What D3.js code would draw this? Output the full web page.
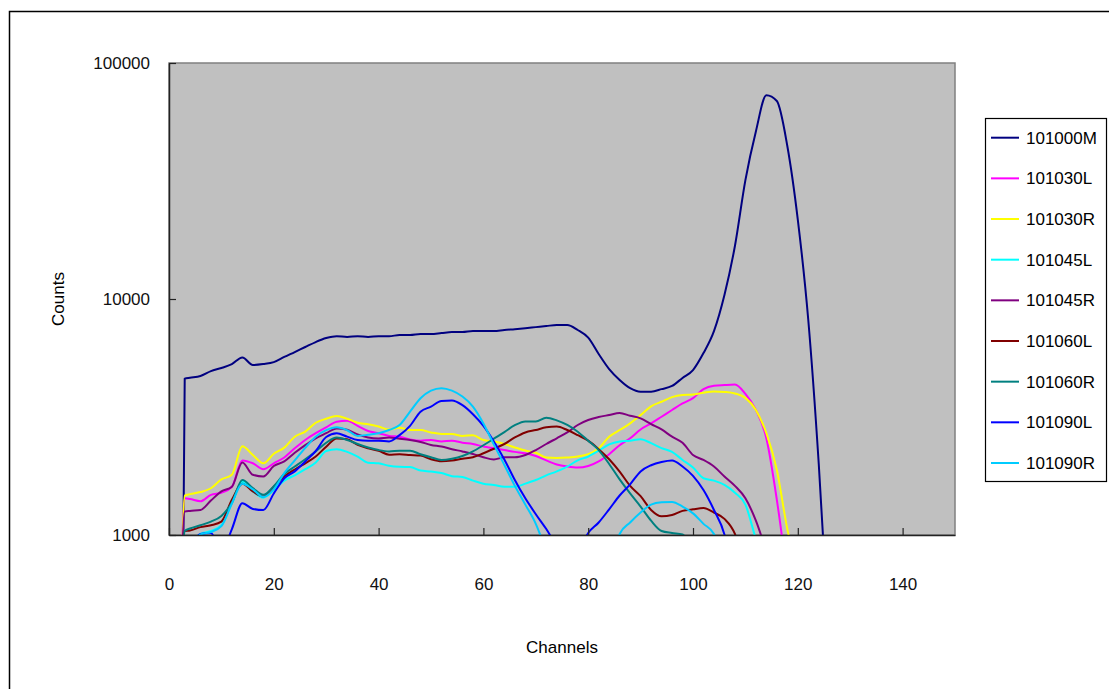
<!DOCTYPE html>
<html>
<head>
<meta charset="utf-8">
<script src="https://cdn.jsdelivr.net/npm/d3@7"></script>
<style>
  html, body { margin: 0; padding: 0; background: #ffffff; }
  svg { display: block; font-family: "Liberation Sans", Arial, sans-serif; }
</style>
</head>
<body>
<svg id="chart" width="1109" height="689"></svg>
<script>
// Channel positions shared by every spectrum
const channels = [
  2, 3, 4, 6, 8, 10, 12, 14,
  16, 18, 20, 22, 24, 26, 28, 30,
  32, 34, 36, 38, 40, 42, 44, 46,
  48, 50, 52, 54, 56, 58, 60, 62,
  64, 66, 68, 70, 72, 74, 76, 78,
  80, 82, 84, 86, 88, 90, 92, 94,
  96, 98, 100, 102, 104, 106, 108, 110,
  112, 114, 116, 118, 120, 122, 124, 126
];

// Counts per channel (null = no reading)
const s101000M = [
  10, 4600, 4640, 4720, 4950, 5100, 5300, 5650,
  5250, 5300, 5400, 5680, 5960, 6260, 6570, 6830,
  6960, 6900, 6960, 6900, 6960, 6960, 7030, 7030,
  7100, 7100, 7170, 7240, 7240, 7310, 7310, 7310,
  7390, 7450, 7520, 7600, 7680, 7760, 7760, 7390,
  6860, 5850, 5050, 4540, 4190, 4050, 4050, 4150,
  4280, 4630, 5000, 5900, 7310, 10400, 16770, 31900,
  51300, 73000, 69000, 44500, 21700, 8150, 2000, 350
];
const s101030L = [
  300, 1430, 1420, 1390, 1480, 1510, 1600, 2070,
  2013, 1900, 2013, 2130, 2330, 2527, 2700, 2860,
  3020, 3050, 2900, 2760, 2700, 2630, 2610, 2540,
  2510, 2527, 2490, 2510, 2460, 2430, 2370, 2330,
  2290, 2250, 2220, 2160, 2070, 1990, 1950, 1930,
  1960, 2050, 2200, 2400, 2570, 2800, 2970, 3170,
  3386, 3610, 3800, 4150, 4290, 4320, 4340, 3960,
  3390, 2570, 1410, 660, null, null, null, null
];
const s101030R = [
  300, 1470, 1490, 1520, 1578, 1720, 1800, 2380,
  2183, 2013, 2210, 2345, 2610, 2740, 2990, 3110,
  3190, 3110, 2990, 2944, 2880, 2800, 2850, 2785,
  2785, 2720, 2680, 2680, 2630, 2645, 2527, 2490,
  2430, 2350, 2280, 2230, 2130, 2120, 2130, 2150,
  2200, 2330, 2610, 2785, 2970, 3220, 3510, 3670,
  3840, 3920, 3940, 4010, 4060, 4040, 3980, 3810,
  3386, 2700, 1886, 1060, 700, null, null, null
];
const s101045L = [
  null, 500, 900, 1010, 1040, 1100, 1363, 1680,
  1530, 1440, 1550, 1700, 1790, 1900, 2030, 2270,
  2310, 2250, 2150, 2025, 2013, 1965, 1945, 1940,
  1875, 1857, 1830, 1775, 1760, 1700, 1650, 1630,
  1600, 1600, 1650, 1710, 1790, 1860, 1950, 2070,
  2150, 2275, 2420, 2490, 2510, 2545, 2450, 2335,
  2250, 2080, 1930, 1740, 1700, 1630, 1510, 1345,
  960, 700, null, null, null, null, null, null
];
const s101045R = [
  300, 1256, 1265, 1276, 1400, 1530, 1600, 2030,
  1800, 1770, 1960, 2050, 2230, 2405, 2570, 2700,
  2830, 2790, 2670, 2590, 2565, 2590, 2560, 2527,
  2480, 2407, 2370, 2310, 2260, 2205, 2135, 2090,
  2135, 2135, 2183, 2290, 2430, 2570, 2720, 2925,
  3070, 3160, 3225, 3290, 3200, 3120, 2950, 2800,
  2610, 2460, 2183, 2080, 1950, 1770, 1615, 1430,
  1150, 850, null, null, null, null, null, null
];
const s101060L = [
  300, 1040, 1045, 1080, 1100, 1140, 1410, 1650,
  1530, 1455, 1600, 1770, 1895, 2013, 2150, 2367,
  2565, 2545, 2410, 2330, 2275, 2190, 2200, 2183,
  2170, 2095, 2055, 2070, 2105, 2135, 2220, 2320,
  2430, 2590, 2720, 2785, 2860, 2880, 2785, 2650,
  2510, 2310, 2095, 1857, 1615, 1460, 1276, 1200,
  1215, 1265, 1285, 1300, 1245, 1170, 1010, 700,
  null, null, null, null, null, null, null, null
];
const s101060R = [
  300, 1040, 1065, 1100, 1140, 1205, 1370, 1710,
  1580, 1480, 1610, 1815, 1950, 2095, 2260, 2460,
  2590, 2527, 2430, 2350, 2290, 2260, 2275, 2275,
  2200, 2135, 2080, 2105, 2160, 2260, 2400, 2560,
  2730, 2920, 3030, 3030, 3140, 3060, 2925, 2740,
  2510, 2290, 2000, 1720, 1500, 1320, 1150, 1040,
  1020, 1005, 800, null, null, null, null, null,
  null, null, null, null, null, null, null, null
];
const s101090L = [
  null, 500, 800, 1010, 1020, 850, 1060, 1363,
  1290, 1276, 1500, 1740, 1860, 2050, 2270, 2600,
  2700, 2610, 2527, 2510, 2510, 2490, 2650, 2900,
  3330, 3500, 3700, 3715, 3550, 3250, 2900, 2490,
  2090, 1710, 1430, 1225, 1060, 900, 800, 850,
  1020, 1130, 1285, 1470, 1640, 1860, 1975, 2040,
  2070, 1950, 1780, 1550, 1276, 1005, 600, null,
  null, null, null, null, null, null, null, null
];
const s101090R = [
  null, null, 750, 1005, 1030, 1090, 1360, 1650,
  1560, 1450, 1560, 1830, 2070, 2340, 2610, 2780,
  2860, 2780, 2630, 2660, 2700, 2785, 2925, 3330,
  3795, 4090, 4190, 4090, 3860, 3500, 2970, 2415,
  1981, 1615, 1345, 1115, 850, null, null, null,
  null, null, 700, 1010, 1130, 1245, 1345, 1375,
  1380, 1320, 1235, 1115, 1010, 750, null, null,
  null, null, null, null, null, null, null, null
];

const seriesNames = ["101000M", "101030L", "101030R", "101045L", "101045R",
                     "101060L", "101060R", "101090L", "101090R"];
const seriesValues = [s101000M, s101030L, s101030R, s101045L, s101045R,
                      s101060L, s101060R, s101090L, s101090R];
const seriesColors = ["#000080", "#FF00FF", "#FFFF00", "#00FFFF", "#800080",
                      "#800000", "#008080", "#0000FF", "#00CCFF"];

const xTickValues = [0, 20, 40, 60, 80, 100, 120, 140];
const yTickValues = [1000, 10000, 100000];

// ---- layout ----
const plot = { left: 169, top: 63, right: 955, bottom: 535 };
const svg = d3.select("#chart");

const x = d3.scaleLinear().domain([0, 150]).range([plot.left, plot.right]);
const y = d3.scaleLog().domain([1000, 100000]).range([plot.bottom, plot.top]);

// outer chart frame (top and left edges)
svg.append("path")
  .attr("d", "M9.5,689 V11.5 H1109")
  .attr("fill", "none")
  .attr("stroke", "#000")
  .attr("stroke-width", 1.5);

// plot area
svg.append("rect")
  .attr("x", plot.left).attr("y", plot.top)
  .attr("width", plot.right - plot.left).attr("height", plot.bottom - plot.top)
  .attr("fill", "#C0C0C0")
  .attr("stroke", "#808080")
  .attr("stroke-width", 1.5);

svg.append("defs").append("clipPath").attr("id", "plotClip")
  .append("rect")
  .attr("x", plot.left).attr("y", plot.top)
  .attr("width", plot.right - plot.left).attr("height", plot.bottom - plot.top);

// spectra
const line = d3.line()
  .defined(d => d.v != null)
  .curve(d3.curveMonotoneX)
  .x(d => x(d.c))
  .y(d => y(d.v));

const lines = svg.append("g").attr("clip-path", "url(#plotClip)");
seriesValues.forEach((vals, i) => {
  const pts = channels.map((c, k) => ({ c: c, v: vals[k] }));
  lines.append("path")
    .datum(pts)
    .attr("d", line)
    .attr("fill", "none")
    .attr("stroke", seriesColors[i])
    .attr("stroke-width", 2)
    .attr("stroke-linejoin", "round");
});

// axes
const yAxis = svg.append("g")
  .attr("transform", `translate(${plot.left},0)`)
  .call(d3.axisLeft(y).tickValues(yTickValues).tickFormat(d3.format("d"))
        .tickSizeInner(-7).tickSizeOuter(0).tickPadding(19));

const xAxis = svg.append("g")
  .attr("transform", `translate(0,${plot.bottom})`)
  .call(d3.axisBottom(x).tickValues(xTickValues)
        .tickSizeInner(-7).tickSizeOuter(0).tickPadding(43));

[yAxis, xAxis].forEach(g => {
  g.select(".domain").attr("stroke", "#222").attr("stroke-width", 1.5);
  g.selectAll(".tick line").attr("stroke", "#222").attr("stroke-width", 1.2);
  g.selectAll(".tick text")
    .attr("fill", "#111")
    .style("font-size", "17px")
    .style("font-family", "'Liberation Sans', Arial, sans-serif");
});

// axis titles
svg.append("text")
  .attr("x", 562).attr("y", 653)
  .attr("text-anchor", "middle")
  .style("font-size", "17px")
  .attr("fill", "#000")
  .text("Channels");

svg.append("text")
  .attr("transform", "translate(64,299) rotate(-90)")
  .attr("text-anchor", "middle")
  .style("font-size", "17px")
  .attr("fill", "#000")
  .text("Counts");

// legend
const legend = svg.append("g");
legend.append("rect")
  .attr("x", 985.5).attr("y", 118.5)
  .attr("width", 121).attr("height", 363)
  .attr("fill", "#fff")
  .attr("stroke", "#000")
  .attr("stroke-width", 1.2);

seriesNames.forEach((name, i) => {
  const yy = 137.7 + i * 40.66;
  legend.append("line")
    .attr("x1", 991).attr("x2", 1019)
    .attr("y1", yy).attr("y2", yy)
    .attr("stroke", seriesColors[i])
    .attr("stroke-width", 2);
  legend.append("text")
    .attr("x", 1026).attr("y", yy)
    .attr("dy", "0.35em")
    .style("font-size", "17px")
    .attr("fill", "#000")
    .text(name);
});
</script>
</body>
</html>
